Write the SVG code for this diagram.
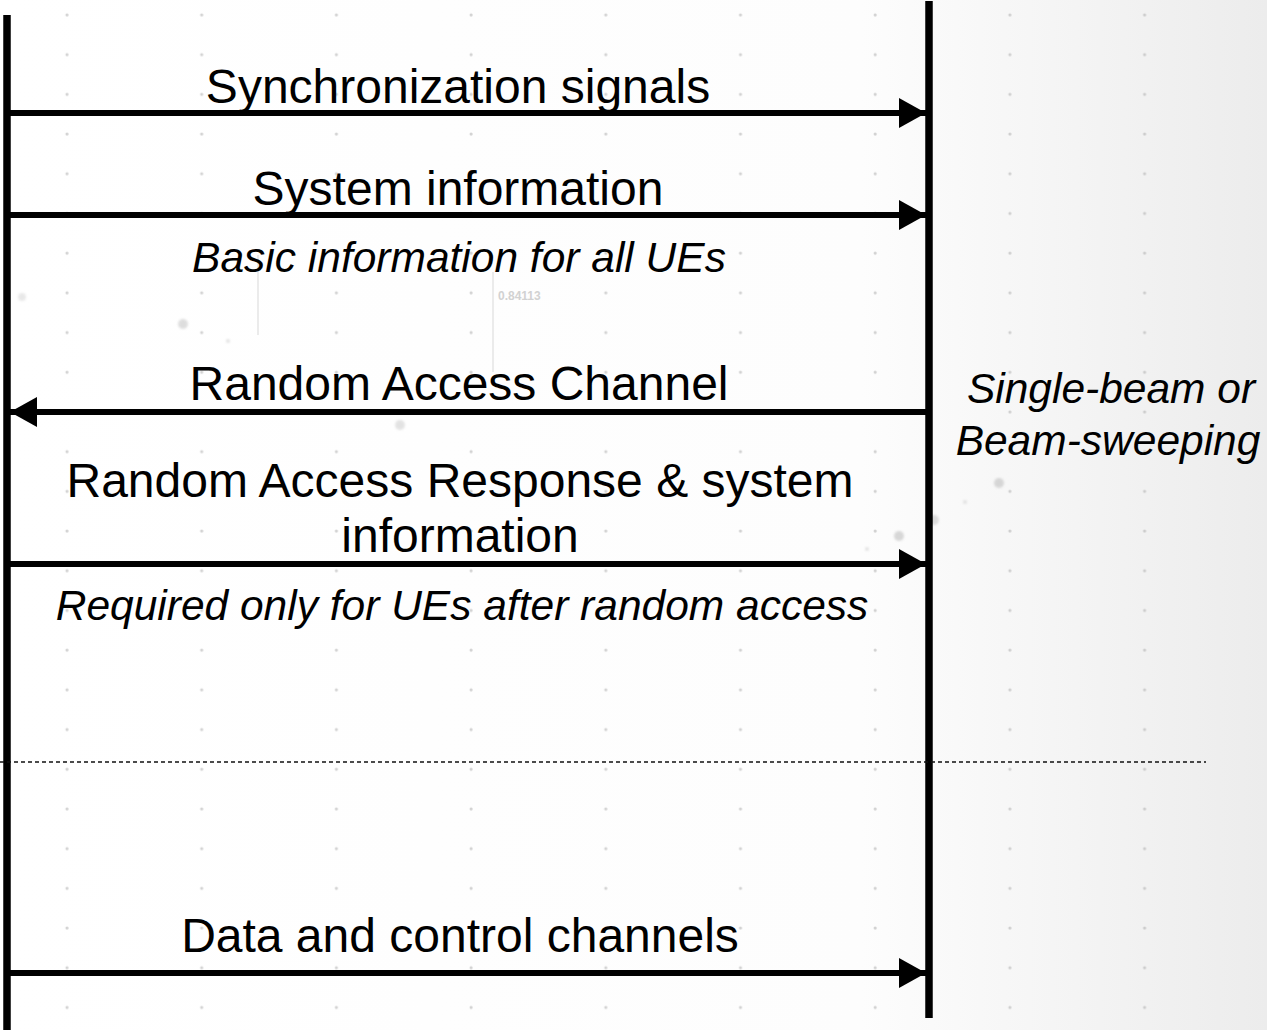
<svg xmlns="http://www.w3.org/2000/svg" width="1267" height="1030" viewBox="0 0 1267 1030">
  <defs>
    <linearGradient id="bg" x1="0" y1="0" x2="1267" y2="0" gradientUnits="userSpaceOnUse">
      <stop offset="0" stop-color="#ffffff"/>
      <stop offset="0.68" stop-color="#fdfdfd"/>
      <stop offset="1" stop-color="#ececec"/>
    </linearGradient>
    <pattern id="dots" x="0" y="0" width="134.7" height="39.7" patternUnits="userSpaceOnUse">
      <circle cx="67" cy="15" r="1.6" fill="#a8a8a8" fill-opacity="0.5"/>
    </pattern>
    <filter id="soft" x="-50%" y="-50%" width="200%" height="200%">
      <feGaussianBlur stdDeviation="1.2"/>
    </filter>
    <marker id="head" viewBox="0 0 27 30" refX="27" refY="15" markerWidth="27" markerHeight="30" markerUnits="userSpaceOnUse" orient="auto">
      <path d="M0,0 L27,15 L0,30 Z" fill="#000"/>
    </marker>
  </defs>
  <style>
    .life { stroke: #000; stroke-width: 7.5; fill: none; }
    .msg { stroke: #000; stroke-width: 6; fill: none; marker-end: url(#head); }
    .lbl { font-family: "Liberation Sans", Arial, sans-serif; font-size: 48px; fill: #000; text-anchor: middle; }
    .note { font-family: "Liberation Sans", Arial, sans-serif; font-size: 42.5px; font-style: italic; fill: #000; text-anchor: middle; }
    .sep { stroke: #111; stroke-width: 1.4; stroke-dasharray: 4 3; fill: none; }
    .haze { fill: #c8c8c8; filter: url(#soft); }
  </style>

  <!-- backdrop: soft grey fade to the right with a faint dot grid -->
  <rect x="0" y="0" width="1267" height="1030" fill="url(#bg)"/>
  <rect x="0" y="0" width="1267" height="1030" fill="url(#dots)"/>
  <g id="backdrop-marks">
    <line x1="258" y1="255" x2="258" y2="335" stroke="#e4e4e4" stroke-width="1.5"/>
    <line x1="493" y1="272" x2="493" y2="372" stroke="#e4e4e4" stroke-width="1.5"/>
    <text x="498" y="300" font-family="'Liberation Sans', Arial, sans-serif" font-size="12" font-weight="bold" fill="#d2d2d2">0.84113</text>
    <circle class="haze" cx="183" cy="324" r="5" opacity="0.6"/>
    <circle class="haze" cx="228" cy="341" r="2" opacity="0.5"/>
    <circle class="haze" cx="400" cy="425" r="5" opacity="0.5"/>
    <circle class="haze" cx="999" cy="483" r="5" opacity="0.7"/>
    <circle class="haze" cx="899" cy="536" r="5" opacity="0.7"/>
    <circle class="haze" cx="934" cy="520" r="5" opacity="0.6"/>
    <circle class="haze" cx="867" cy="549" r="2" opacity="0.5"/>
    <circle class="haze" cx="965" cy="502" r="2" opacity="0.5"/>
    <circle class="haze" cx="22" cy="297" r="4" opacity="0.4"/>
  </g>

  <!-- lifelines -->
  <g id="ue">
    <line class="life" x1="7" y1="15" x2="7" y2="1030"/>
  </g>
  <g id="gnb">
    <line class="life" x1="929" y1="1" x2="929" y2="1018"/>
    <text class="note" x="1111" y="403">Single-beam or</text>
    <text class="note" x="1108" y="455">Beam-sweeping</text>
  </g>

  <!-- messages -->
  <g id="connectors">
    <line class="msg" x1="10" y1="113" x2="926" y2="113"/>
    <line class="msg" x1="10" y1="215" x2="926" y2="215"/>
    <line class="msg" x1="926" y1="412" x2="10" y2="412"/>
    <line class="msg" x1="10" y1="564" x2="926" y2="564"/>
    <line class="msg" x1="10" y1="973" x2="926" y2="973"/>
    <line class="sep" x1="0" y1="762" x2="1206" y2="762"/>
  </g>

  <g id="labels">
    <text class="lbl" x="458" y="103">Synchronization signals</text>
    <text class="lbl" x="458" y="205">System information</text>
    <text class="note" x="459" y="272">Basic information for all UEs</text>
    <text class="lbl" x="459" y="400">Random Access Channel</text>
    <text class="lbl" x="460" y="497">Random Access Response &amp; system</text>
    <text class="lbl" x="460" y="552">information</text>
    <text class="note" x="462" y="620">Required only for UEs after random access</text>
    <text class="lbl" x="460" y="952">Data and control channels</text>
  </g>
</svg>
